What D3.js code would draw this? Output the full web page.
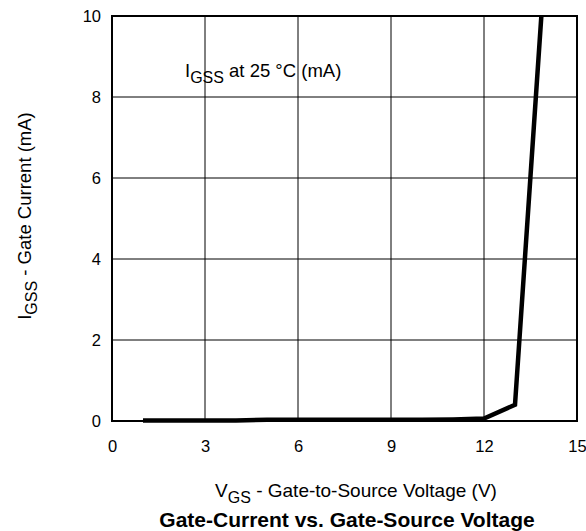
<!DOCTYPE html>
<html>
<head>
<meta charset="utf-8">
<script src="https://cdn.jsdelivr.net/npm/d3@7/dist/d3.min.js"></script>
<style>
  html, body { margin: 0; padding: 0; background: #fff; }
  svg { display: block; font-family: "Liberation Sans", Arial, Helvetica, sans-serif; }
</style>
</head>
<body>
<svg id="chart" width="586" height="531"></svg>
<script>
// Gate current versus gate-to-source voltage
const vgs  = [1, 2, 3, 4, 5, 6, 7, 8, 9, 10, 11, 12, 13, 13.85];
const igss = [0.01, 0.01, 0.01, 0.015, 0.03, 0.03, 0.03, 0.03, 0.03, 0.03, 0.04, 0.06, 0.4, 10];
const xTicks = [0, 3, 6, 9, 12, 15];
const yTicks = [0, 2, 4, 6, 8, 10];

const svg = d3.select("#chart");
const m = { left: 112, top: 16, right: 577, bottom: 421 };

const x = d3.scaleLinear().domain([0, 15]).range([m.left, m.right]);
const y = d3.scaleLinear().domain([0, 10]).range([m.bottom, m.top]);

// grid
const g = svg.append("g");
g.selectAll("line.vx").data(xTicks.slice(1, -1)).join("line")
  .attr("x1", d => x(d)).attr("x2", d => x(d))
  .attr("y1", m.top).attr("y2", m.bottom)
  .attr("stroke", "#000").attr("stroke-width", 1);
g.selectAll("line.hy").data(yTicks.slice(1, -1)).join("line")
  .attr("y1", d => y(d)).attr("y2", d => y(d))
  .attr("x1", m.left).attr("x2", m.right)
  .attr("stroke", "#000").attr("stroke-width", 1);

// frame
svg.append("rect")
  .attr("x", m.left).attr("y", m.top)
  .attr("width", m.right - m.left).attr("height", m.bottom - m.top)
  .attr("fill", "none").attr("stroke", "#000").attr("stroke-width", 2);

// tick labels
const xAxis = svg.append("g").attr("transform", `translate(0,${m.bottom + 19})`)
  .call(d3.axisBottom(x).tickValues(xTicks).tickSize(0).tickPadding(0));
xAxis.select(".domain").remove();
xAxis.selectAll("text").attr("font-size", 16.5).attr("fill", "#000")
  .attr("font-family", "Liberation Sans, Arial, sans-serif");

const yAxis = svg.append("g").attr("transform", `translate(${m.left - 11},0)`)
  .call(d3.axisLeft(y).tickValues(yTicks).tickSize(0).tickPadding(0));
yAxis.select(".domain").remove();
yAxis.selectAll("text").attr("font-size", 16.5).attr("fill", "#000")
  .attr("font-family", "Liberation Sans, Arial, sans-serif");

// curve
const line = d3.line().x((d, i) => x(vgs[i])).y(d => y(d));
svg.append("path").datum(igss)
  .attr("d", line)
  .attr("fill", "none").attr("stroke", "#000")
  .attr("stroke-width", 4.5).attr("stroke-linejoin", "miter");

// in-plot annotation
const ann = svg.append("text").attr("x", 185).attr("y", 77)
  .attr("font-size", 18.5).attr("fill", "#000");
ann.append("tspan").text("I");
ann.append("tspan").attr("dy", 6).attr("font-size", 16).text("GSS");
ann.append("tspan").attr("dy", -6).text(" at 25 °C (mA)");

// x axis title
const xt = svg.append("text").attr("x", 356).attr("y", 497)
  .attr("text-anchor", "middle").attr("font-size", 19).attr("fill", "#000");
xt.append("tspan").text("V");
xt.append("tspan").attr("dy", 6).attr("font-size", 16).text("GS");
xt.append("tspan").attr("dy", -6).text(" - Gate-to-Source Voltage (V)");

// y axis title
const yt = svg.append("text")
  .attr("transform", `translate(31,216) rotate(-90)`)
  .attr("text-anchor", "middle").attr("font-size", 18.5).attr("fill", "#000");
yt.append("tspan").text("I");
yt.append("tspan").attr("dy", 6).attr("font-size", 16).text("GSS");
yt.append("tspan").attr("dy", -6).text("  -  Gate Current (mA)");

// chart title
svg.append("text").attr("x", 347).attr("y", 527)
  .attr("text-anchor", "middle").attr("font-size", 21).attr("font-weight", "bold")
  .attr("fill", "#000").text("Gate-Current vs. Gate-Source Voltage");
</script>
</body>
</html>
